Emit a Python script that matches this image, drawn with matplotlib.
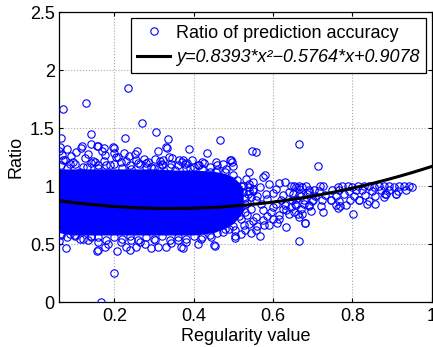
import matplotlib
matplotlib.use("Agg")
import matplotlib.pyplot as plt
from matplotlib.lines import Line2D
import numpy as np

plt.rcParams['font.family'] = ['Liberation Sans', 'DejaVu Sans']

# ---------------- data ----------------
# dense (solid) core of the scatter cloud
core_x = [0.0605, 0.10, 0.15, 0.20, 0.25, 0.30, 0.35, 0.40, 0.45, 0.48, 0.50, 0.515, 0.525]
core_top = [1.15, 1.15, 1.15, 1.15, 1.15, 1.15, 1.14, 1.14, 1.13, 1.11, 1.08, 1.03, 0.98]
core_bottom = [0.60, 0.58, 0.58, 0.58, 0.58, 0.58, 0.58, 0.58, 0.60, 0.64, 0.68, 0.74, 0.78]

# circles along the top edge of the core (two ragged rows)
edge_top_x = [0.065, 0.08, 0.10, 0.12, 0.14, 0.16, 0.18, 0.20, 0.22, 0.24, 0.26, 0.28,
              0.30, 0.32, 0.34, 0.36, 0.38, 0.40, 0.42, 0.44, 0.46, 0.48, 0.50,
              0.07, 0.095, 0.125, 0.145, 0.175, 0.205, 0.23, 0.255, 0.285, 0.315,
              0.345, 0.37, 0.395, 0.425, 0.455, 0.475]
edge_top_y = [1.18, 1.16, 1.19, 1.17, 1.20, 1.16, 1.18, 1.19, 1.16, 1.18, 1.20, 1.17,
              1.16, 1.19, 1.17, 1.18, 1.16, 1.17, 1.15, 1.17, 1.14, 1.12, 1.10,
              1.23, 1.21, 1.24, 1.22, 1.22, 1.25, 1.22, 1.23, 1.21, 1.22,
              1.24, 1.21, 1.23, 1.20, 1.21, 1.19]
# circles along the bottom edge of the core
edge_bot_x = [0.065, 0.08, 0.10, 0.12, 0.14, 0.16, 0.18, 0.20, 0.22, 0.24, 0.26, 0.28,
              0.30, 0.32, 0.34, 0.36, 0.38, 0.40, 0.42, 0.44, 0.46, 0.48, 0.50]
edge_bot_y = [0.58, 0.56, 0.57, 0.55, 0.57, 0.56, 0.54, 0.56, 0.55, 0.57, 0.54, 0.56,
              0.55, 0.57, 0.54, 0.56, 0.55, 0.57, 0.56, 0.58, 0.60, 0.63, 0.66]
# ragged right end of the core
edge_right_x = [0.51, 0.52, 0.525, 0.53, 0.535, 0.54, 0.545, 0.52, 0.53, 0.515, 0.54, 0.55]
edge_right_y = [1.05, 1.00, 0.95, 0.90, 0.86, 0.96, 0.91, 0.82, 0.78, 0.74, 1.02, 0.98]

# scattered circles above the core
upper_x = [0.071, 0.128, 0.234, 0.269, 0.305, 0.334, 0.140, 0.065, 0.226, 0.466,
           0.387, 0.433, 0.546, 0.557, 0.666, 0.714, 0.063, 0.140, 0.157, 0.117,
           0.104, 0.134, 0.176, 0.199, 0.199, 0.224, 0.236, 0.251, 0.275, 0.310,
           0.333, 0.302, 0.322, 0.364, 0.343, 0.067, 0.075, 0.088, 0.218, 0.264,
           0.151, 0.130, 0.188, 0.243, 0.293, 0.352, 0.113, 0.377, 0.373, 0.410,
           0.440, 0.457, 0.482, 0.500, 0.495, 0.497, 0.539, 0.090, 0.170, 0.210,
           0.280, 0.320, 0.390, 0.420, 0.460, 0.160, 0.080, 0.060, 0.118, 0.158,
           0.175, 0.197, 0.258, 0.330, 0.337, 0.313, 0.382, 0.414, 0.492]
upper_y = [1.667, 1.720, 1.845, 1.543, 1.466, 1.408, 1.448, 1.420, 1.420, 1.400,
           1.320, 1.287, 1.307, 1.293, 1.368, 1.175, 1.340, 1.368, 1.348, 1.333,
           1.296, 1.280, 1.267, 1.333, 1.287, 1.287, 1.259, 1.276, 1.239, 1.304,
           1.333, 1.239, 1.230, 1.230, 1.196, 1.267, 1.224, 1.196, 1.210, 1.196,
           1.210, 1.166, 1.181, 1.152, 1.166, 1.138, 1.123, 1.196, 1.224, 1.181,
           1.123, 1.123, 1.152, 1.172, 1.230, 1.207, 1.123, 1.260, 1.300, 1.250,
           1.200, 1.180, 1.160, 1.210, 1.180, 1.180, 1.320, 1.300, 1.348, 1.350,
           1.333, 1.342, 1.300, 1.336, 1.256, 1.170, 1.200, 1.184, 1.227]

# scattered circles below the core
lower_x = [0.200, 0.166, 0.077, 0.155, 0.206, 0.374, 0.292, 0.454, 0.061, 0.063,
           0.159, 0.176, 0.239, 0.230, 0.310, 0.331, 0.369, 0.159, 0.134, 0.113,
           0.088, 0.218, 0.264, 0.276, 0.255, 0.343, 0.184, 0.100, 0.142, 0.243,
           0.302, 0.360, 0.381, 0.419, 0.444, 0.473, 0.410, 0.452, 0.490, 0.503,
           0.505, 0.503, 0.520, 0.528, 0.545, 0.566, 0.557, 0.578, 0.574, 0.599,
           0.616, 0.633, 0.662, 0.665, 0.680, 0.681, 0.801]
lower_y = [0.250, 0.003, 0.471, 0.445, 0.443, 0.466, 0.466, 0.489, 0.530, 0.592,
           0.454, 0.477, 0.448, 0.477, 0.477, 0.477, 0.477, 0.520, 0.540, 0.549,
           0.592, 0.520, 0.520, 0.506, 0.477, 0.511, 0.506, 0.578, 0.563, 0.534,
           0.534, 0.534, 0.520, 0.549, 0.563, 0.606, 0.506, 0.491, 0.635, 0.569,
           0.558, 0.620, 0.592, 0.664, 0.597, 0.569, 0.620, 0.664, 0.707, 0.720,
           0.750, 0.793, 0.765, 0.528, 0.684, 0.687, 0.761]

# thinning cloud between x = 0.52 and 0.70
mid_x = [0.532, 0.549, 0.591, 0.574, 0.580, 0.616, 0.629, 0.654, 0.683, 0.608,
         0.641, 0.666, 0.566, 0.582, 0.624, 0.658, 0.679, 0.608, 0.557, 0.536,
         0.574, 0.641, 0.616, 0.666, 0.557, 0.540, 0.591, 0.633, 0.530, 0.545,
         0.550, 0.560, 0.570, 0.585, 0.595, 0.600, 0.620, 0.630, 0.645, 0.650,
         0.670, 0.690, 0.535, 0.550, 0.585, 0.525, 0.540, 0.600, 0.520, 0.530,
         0.560, 0.610, 0.625, 0.655, 0.670, 0.690, 0.700, 0.695]
mid_y = [1.066, 1.037, 1.023, 1.080, 1.095, 1.030, 1.037, 1.000, 1.000, 0.980,
         0.951, 0.980, 0.994, 0.937, 0.922, 0.894, 0.851, 0.851, 0.879, 0.937,
         0.793, 0.765, 0.722, 0.735, 0.735, 0.678, 0.664, 0.649, 0.850, 0.800,
         0.960, 0.920, 0.850, 0.890, 0.780, 0.820, 0.880, 0.840, 0.820, 0.930,
         0.920, 0.950, 0.750, 0.700, 0.740, 1.000, 0.990, 0.940, 0.720, 0.620,
         0.660, 0.680, 0.800, 0.850, 0.800, 0.830, 0.880, 0.790]

# right-hand tail, x = 0.64 .. 0.95
tail_x = [0.645, 0.657, 0.665, 0.674, 0.718, 0.727, 0.763, 0.775, 0.788, 0.800,
          0.813, 0.830, 0.842, 0.855, 0.868, 0.880, 0.893, 0.905, 0.918, 0.930,
          0.943, 0.951,
          0.691, 0.703, 0.716, 0.749, 0.766, 0.791, 0.808, 0.825, 0.850, 0.871,
          0.893, 0.914, 0.935,
          0.665, 0.686, 0.707, 0.732, 0.758, 0.779, 0.804, 0.833, 0.858, 0.884,
          0.909,
          0.649, 0.678, 0.699, 0.724, 0.745, 0.766, 0.795, 0.816, 0.842, 0.880,
          0.657, 0.691, 0.720, 0.758, 0.783, 0.837, 0.858,
          0.725, 0.763, 0.768, 0.817, 0.746, 0.909, 0.883, 0.654, 0.673]
tail_y = [1.000, 0.990, 1.000, 0.995, 1.000, 1.000, 0.990, 1.000, 1.000, 0.995,
          1.000, 1.000, 1.000, 0.995, 1.000, 1.000, 1.000, 0.995, 1.000, 1.000,
          1.000, 0.995,
          0.966, 0.970, 0.960, 0.966, 0.970, 0.960, 0.966, 0.970, 0.960, 0.966,
          0.970, 0.960, 0.966,
          0.922, 0.930, 0.915, 0.925, 0.920, 0.930, 0.918, 0.925, 0.920, 0.930,
          0.937,
          0.879, 0.885, 0.875, 0.880, 0.880, 0.870, 0.885, 0.880, 0.875, 0.910,
          0.836, 0.840, 0.830, 0.840, 0.836, 0.845, 0.850,
          0.780, 0.810, 0.826, 0.880, 0.880, 0.937, 0.930, 0.780, 0.765]

# fitted quadratic shown in the legend
fit_coef = [0.8393, -0.5764, 0.9078]

x_ticks = [0.2, 0.4, 0.6, 0.8, 1.0]
x_tick_labels = ['0.2', '0.4', '0.6', '0.8', '1']
y_ticks = [0, 0.5, 1, 1.5, 2, 2.5]
y_tick_labels = ['0', '0.5', '1', '1.5', '2', '2.5']
x_limits = [0.0605, 1.0]
y_limits = [0, 2.5]

scatter_label = 'Ratio of prediction accuracy'
fit_label = 'y=0.8393*x\u00b2\u22120.5764*x+0.9078'

# ---------------- drawing ----------------
fig = plt.figure(figsize=(4.33, 3.47), dpi=100)
ax = fig.add_axes([0.1363, 0.1288, 0.8607, 0.8358])

blue = (0, 0, 1)
mk = dict(linestyle='none', marker='o', mfc='none', mec=blue, ms=5.3, mew=0.8)

ax.fill_between(core_x, core_bottom, core_top, color=blue, linewidth=0, zorder=2)
for xs, ys in [(edge_top_x, edge_top_y), (edge_bot_x, edge_bot_y),
               (edge_right_x, edge_right_y),
               (upper_x, upper_y), (lower_x, lower_y),
               (mid_x, mid_y), (tail_x, tail_y)]:
    ax.plot(xs, ys, zorder=3, **mk)

xf = np.linspace(x_limits[0], x_limits[1], 200)
ax.plot(xf, np.polyval(fit_coef, xf), color='black', lw=2.2, zorder=4)

ax.set_xlim(x_limits)
ax.set_ylim(y_limits)
ax.set_xticks(x_ticks)
ax.set_xticklabels(x_tick_labels)
ax.set_yticks(y_ticks)
ax.set_yticklabels(y_tick_labels)
ax.tick_params(direction='in', top=True, right=True, length=3, width=0.8,
               labelsize=13, color='black')
ax.tick_params(axis='x', pad=4)
ax.tick_params(axis='y', pad=3)
ax.grid(True, linestyle=':', color='#a8a8a8', linewidth=0.8)
ax.set_axisbelow(True)
for s in ax.spines.values():
    s.set_linewidth(0.9)
    s.set_color('black')

ax.set_xlabel('Regularity value', fontsize=13, labelpad=2)
ax.set_ylabel('Ratio', fontsize=13, labelpad=4)

handles = [Line2D([], [], **mk),
           Line2D([], [], color='black', lw=2.2)]
leg = ax.legend(handles, [scatter_label, fit_label], loc='upper right',
                bbox_to_anchor=(0.985, 0.979), borderaxespad=0, fontsize=13,
                fancybox=False, framealpha=1, edgecolor='black',
                handlelength=1.8, handletextpad=0.35, borderpad=0.35,
                labelspacing=0.42)
leg.get_frame().set_linewidth(0.9)
leg.get_texts()[1].set_fontstyle('italic')

fig.savefig('out.png', dpi=100)
